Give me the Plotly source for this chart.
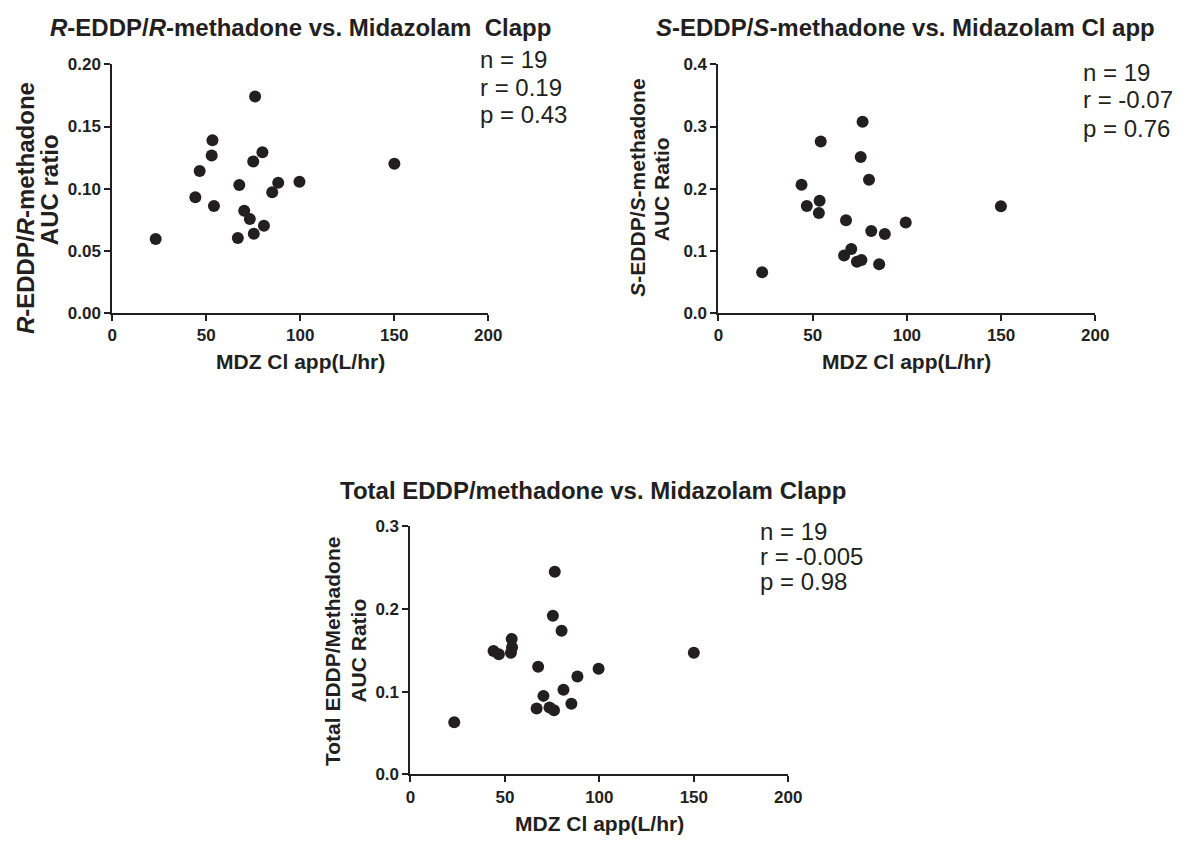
import plotly.graph_objects as go

W, H = 1190, 850

# ---------------- data ----------------
x_r = [23.1, 44.2, 46.5, 53.3, 52.9, 54.1, 67.6, 66.8, 70.2, 73.2, 75.3, 76.0, 75.0, 79.9, 80.7, 85.1, 88.3, 99.6, 150.1]
y_r = [0.0595, 0.0931, 0.1142, 0.1389, 0.1266, 0.0860, 0.1029, 0.0603, 0.0821, 0.0755, 0.0637, 0.1742, 0.1218, 0.1292, 0.0700, 0.0971, 0.1047, 0.1055, 0.1200]

x_s = [23.2, 44.1, 46.9, 53.7, 53.3, 54.3, 67.7, 66.7, 70.5, 73.5, 75.9, 76.5, 75.5, 79.9, 81.1, 85.3, 88.3, 99.4, 149.9]
y_s = [0.0653, 0.2063, 0.1721, 0.1806, 0.1605, 0.2758, 0.1490, 0.0922, 0.1026, 0.0821, 0.0848, 0.3078, 0.2510, 0.2142, 0.1316, 0.0780, 0.1269, 0.1452, 0.1716]

x_t = [23.2, 44.0, 46.8, 53.6, 53.8, 53.2, 67.6, 66.8, 70.4, 73.6, 76.0, 76.4, 75.4, 80.0, 81.0, 85.2, 88.4, 99.6, 150.0]
y_t = [0.0630, 0.1488, 0.1449, 0.1634, 0.1535, 0.1468, 0.1299, 0.0795, 0.0948, 0.0807, 0.0775, 0.2445, 0.1913, 0.1732, 0.1023, 0.0854, 0.1181, 0.1276, 0.1468]

x_ticks = [0, 50, 100, 150, 200]
y_ticks_r = [0.00, 0.05, 0.10, 0.15, 0.20]
y_ticks_s = [0.0, 0.1, 0.2, 0.3, 0.4]
y_ticks_t = [0.0, 0.1, 0.2, 0.3]

titles = ["<i>R</i>-EDDP/<i>R</i>-methadone vs. Midazolam  Clapp",
          "<i>S</i>-EDDP/<i>S</i>-methadone vs. Midazolam Cl app",
          "Total EDDP/methadone vs. Midazolam Clapp"]
ylab1 = ["<i>R</i>-EDDP/<i>R</i>-methadone", "<i>S</i>-EDDP/<i>S</i>-methadone", "Total EDDP/Methadone"]
ylab2 = ["AUC ratio", "AUC Ratio", "AUC Ratio"]
xlab = "MDZ Cl app(L/hr)"
stats = [["n = 19", "r = 0.19", "p = 0.43"],
         ["n = 19", "r = -0.07", "p = 0.76"],
         ["n = 19", "r = -0.005", "p = 0.98"]]

INK = "#231f20"
FONT = "Liberation Sans, Arial, sans-serif"

def px(x):
    return x / W

def py(y):
    return 1 - y / H

# plot-area pixel boxes: (left, right, top, bottom)
boxes = [(109, 491, 56.7, 310.7), (725, 1108, 56.7, 310.7), (412, 796, 528.5, 783)]

fig = go.Figure()
series = [(x_r, y_r), (x_s, y_s), (x_t, y_t)]
for i, (xs, ys) in enumerate(series):
    sfx = "" if i == 0 else str(i + 1)
    fig.add_trace(go.Scatter(x=xs, y=ys, mode="markers",
                             marker=dict(size=12, color=INK, line=dict(width=0)),
                             xaxis="x" + sfx, yaxis="y" + sfx, hoverinfo="x+y"))

axis_common = dict(showline=True, linewidth=2, linecolor=INK, ticks="outside", ticklen=6,
                   tickwidth=2, tickcolor=INK, showgrid=False, zeroline=False,
                   tickfont=dict(family=FONT, size=17, color=INK, weight="bold"))

yticks = [y_ticks_r, y_ticks_s, y_ticks_t]
yfmt = [".2f", ".1f", ".1f"]
lay = {}
for i, (l, r, t, b) in enumerate(boxes):
    sfx = "" if i == 0 else str(i + 1)
    lay["xaxis" + sfx] = dict(axis_common, domain=[px(l), px(r)], range=[0, 200],
                              tickvals=x_ticks, anchor="y" + sfx)
    lay["yaxis" + sfx] = dict(axis_common, domain=[py(b), py(t)],
                              range=[yticks[i][0], yticks[i][-1]], tickvals=yticks[i],
                              tickformat=yfmt[i], anchor="x" + sfx)

ann = []
# titles
title_pos = [(300, 19), (915, 19), (598, 493)]
for i, (tx, ty) in enumerate(title_pos):
    ann.append(dict(text=titles[i], x=px(tx), y=py(ty), xref="paper", yref="paper",
                    xanchor="center", yanchor="middle", showarrow=False,
                    font=dict(family=FONT, size=24, color=INK, weight="bold")))
# y-axis titles (two lines each)
ylab_pos = [((21, 204), (46, 185), 24), ((643, 183), (668, 184), 21), ((333, 657), (359, 656), 21)]
for i, (p1, p2, fs) in enumerate(ylab_pos):
    for txt, (lx, ly) in ((ylab1[i], p1), (ylab2[i], p2)):
        ann.append(dict(text=txt, x=px(lx), y=py(ly), xref="paper", yref="paper",
                        xanchor="center", yanchor="middle", showarrow=False, textangle=-90,
                        font=dict(family=FONT, size=fs, color=INK, weight="bold")))
# x-axis titles
xlab_pos = [(300, 361), (916, 361), (604, 833)]
for (lx, ly) in xlab_pos:
    ann.append(dict(text=xlab, x=px(lx), y=py(ly), xref="paper", yref="paper",
                    xanchor="center", yanchor="middle", showarrow=False,
                    font=dict(family=FONT, size=21, color=INK, weight="bold")))
# stats text
stat_pos = [(481, [52, 80, 108]), (1093, [65, 93, 122]), (765, [534, 560, 586])]
for i, (sx, ys_) in enumerate(stat_pos):
    for txt, sy in zip(stats[i], ys_):
        ann.append(dict(text=txt, x=px(sx), y=py(sy), xref="paper", yref="paper",
                        xanchor="left", yanchor="middle", showarrow=False,
                        font=dict(family=FONT, size=24, color=INK)))

fig.update_layout(width=W, height=H, margin=dict(l=0, r=0, t=0, b=0),
                  paper_bgcolor="white", plot_bgcolor="white", showlegend=False,
                  annotations=ann, **lay)

fig.write_html("out.html")
